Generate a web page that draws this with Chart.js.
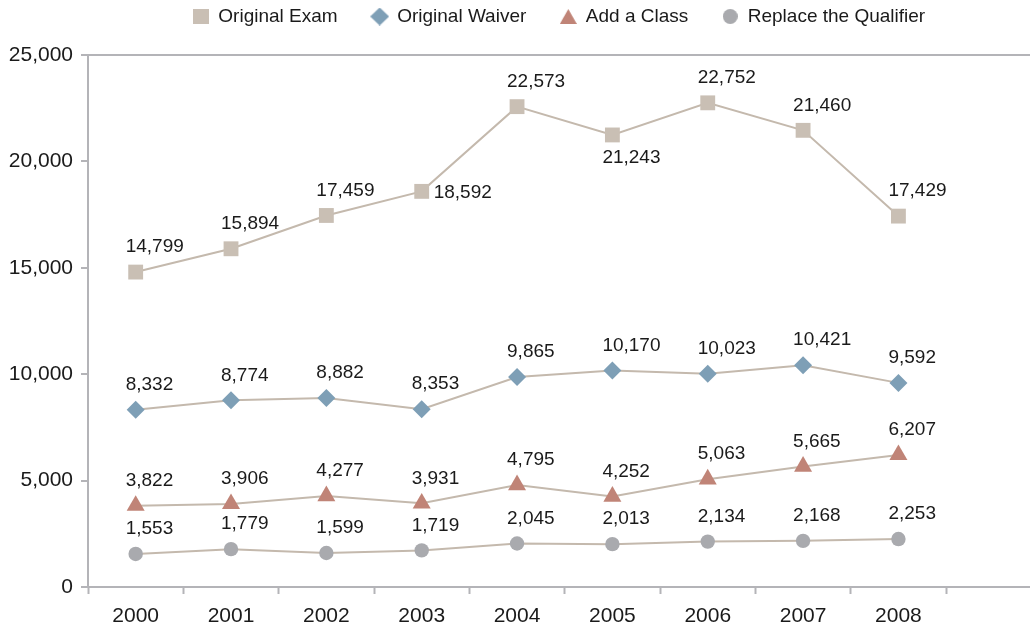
<!DOCTYPE html>
<html>
<head>
<meta charset="utf-8">
<script src="https://cdn.jsdelivr.net/npm/chart.js@4.4.1/dist/chart.umd.min.js"></script>
<style>
  html, body { margin: 0; padding: 0; background: #fff; }
  #wrap { width: 1030px; height: 629px; }
</style>
</head>
<body>
<div id="wrap"><canvas id="examChart"></canvas></div>
<script>
// values
const years = ["2000", "2001", "2002", "2003", "2004", "2005", "2006", "2007", "2008"];
const originalExam = [14799, 15894, 17459, 18592, 22573, 21243, 22752, 21460, 17429];
const originalWaiver = [8332, 8774, 8882, 8353, 9865, 10170, 10023, 10421, 9592];
const addClass = [3822, 3906, 4277, 3931, 4795, 4252, 5063, 5665, 6207];
const replaceQualifier = [1553, 1779, 1599, 1719, 2045, 2013, 2134, 2168, 2253];
const yTicks = [0, 5000, 10000, 15000, 20000, 25000];

const axisGrey = "#b4b4b8";
const lineColor = "#c4b9ad";
const FONT = "'Liberation Sans', Arial, Helvetica, sans-serif";

const examColor = "#c9bfb4";
const waiverColor = "#7e9fb6";
const classColor = "#c08477";
const qualColor = "#a9aaae";

function points(values) {
  return years.map((y, i) => ({ x: i, y: values[i] }));
}

// small legend markers, drawn once
function marker(shape, color, w, h) {
  const c = document.createElement("canvas");
  c.width = w;
  c.height = h;
  const g = c.getContext("2d");
  g.fillStyle = color;
  g.beginPath();
  if (shape === "square") {
    g.rect(0, 0, w, h);
  } else if (shape === "diamond") {
    g.moveTo(w / 2, 0);
    g.lineTo(w, h / 2);
    g.lineTo(w / 2, h);
    g.lineTo(0, h / 2);
  } else if (shape === "triangle") {
    g.moveTo(w / 2, 0);
    g.lineTo(w, h);
    g.lineTo(0, h);
  } else {
    g.arc(w / 2, h / 2, w / 2, 0, Math.PI * 2);
  }
  g.closePath();
  g.fill();
  return c;
}

const legendMarkers = [
  marker("square", examColor, 16, 15),
  marker("diamond", waiverColor, 19, 18),
  marker("triangle", classColor, 17, 15),
  marker("circle", qualColor, 15, 15),
];

// where a value label sits, if not above its point
const labelSpots = {
  0: { 3: "right", 5: "below" },
};

const valueLabels = {
  id: "valueLabels",
  beforeLayout(chart) {
    // legend: wide gaps between items but a fixed height
    const lg = chart.legend;
    if (lg && !lg._fixed) {
      const fit = lg.fit;
      lg.fit = function () {
        fit.call(this);
        this.height = 82;
      };
      lg._fixed = true;
    }
  },
  afterDatasetsDraw(chart) {
    const ctx = chart.ctx;
    ctx.save();
    ctx.font = "19px " + FONT;
    ctx.fillStyle = "#1a1a1a";
    ctx.textBaseline = "middle";
    ctx.textAlign = "left";
    chart.data.datasets.forEach((ds, di) => {
      const meta = chart.getDatasetMeta(di);
      meta.data.forEach((pt, i) => {
        const txt = ds.data[i].y.toLocaleString("en-US");
        const spot = (labelSpots[di] || {})[i];
        if (spot === "right") {
          ctx.fillText(txt, pt.x + 12, pt.y + 1);
        } else if (spot === "below") {
          ctx.fillText(txt, pt.x - 10, pt.y + 23);
        } else {
          ctx.fillText(txt, pt.x - 10, pt.y - 25);
        }
      });
    });
    ctx.restore();
  },
};

function series(label, values, style, color, radius) {
  return {
    label: label,
    data: points(values),
    borderColor: lineColor,
    borderWidth: 2,
    pointStyle: style,
    pointRadius: radius,
    pointHoverRadius: radius,
    pointBackgroundColor: color,
    pointBorderColor: color,
    pointBorderWidth: 0,
    backgroundColor: color,
    tension: 0,
    clip: false,
  };
}

new Chart(document.getElementById("examChart"), {
  type: "line",
  data: {
    datasets: [
      series("Original Exam", originalExam, "rect", examColor, 10.5),
      series("Original Waiver", originalWaiver, "rectRot", waiverColor, 9),
      series("Add a Class", addClass, "triangle", classColor, 10.4),
      series("Replace the Qualifier", replaceQualifier, "circle", qualColor, 7.2),
    ],
  },
  options: {
    responsive: true,
    maintainAspectRatio: false,
    animation: false,
    layout: { autoPadding: false, padding: { top: -27, right: 0, left: 0, bottom: 0 } },
    plugins: {
      legend: {
        position: "top",
        fullSize: false,
        labels: {
          usePointStyle: true,
          boxWidth: 16,
          boxHeight: 16,
          padding: 34,
          color: "#1a1a1a",
          font: { family: FONT, size: 19 },
          generateLabels(chart) {
            const items = Chart.defaults.plugins.legend.labels.generateLabels(chart);
            items.forEach((it, i) => {
              it.pointStyle = legendMarkers[i];
            });
            return items;
          },
        },
      },
      tooltip: { enabled: false },
    },
    scales: {
      x: {
        type: "linear",
        min: -0.5,
        max: 9.38,
        afterBuildTicks(scale) {
          const t = [];
          for (let v = -0.5; v <= 8.5; v += 0.5) t.push({ value: v });
          scale.ticks = t;
        },
        afterFit(scale) {
          scale.height = 42;
        },
        border: { display: true, color: axisGrey, width: 2 },
        grid: {
          drawOnChartArea: false,
          tickLength: 7,
          tickWidth: 2,
          tickColor: (c) => (Number.isInteger(c.tick.value) ? "transparent" : axisGrey),
        },
        ticks: {
          autoSkip: false,
          maxRotation: 0,
          padding: 10,
          color: "#1a1a1a",
          font: { family: FONT, size: 21 },
          callback: (v) => (Number.isInteger(v) && years[v] ? years[v] : ""),
        },
      },
      y: {
        min: 0,
        max: 25000,
        afterBuildTicks(scale) {
          scale.ticks = yTicks.map((v) => ({ value: v }));
        },
        afterFit(scale) {
          scale.width = 88;
        },
        border: { display: true, color: axisGrey, width: 2 },
        grid: {
          drawOnChartArea: true,
          lineWidth: 2,
          color: (c) => (c.tick && c.tick.value === 25000 ? axisGrey : "transparent"),
          tickLength: 7,
          tickWidth: 2,
          tickColor: axisGrey,
        },
        ticks: {
          padding: 8,
          color: "#1a1a1a",
          font: { family: FONT, size: 21 },
          callback: (v) => v.toLocaleString("en-US"),
        },
      },
    },
  },
  plugins: [valueLabels],
});
</script>
</body>
</html>
